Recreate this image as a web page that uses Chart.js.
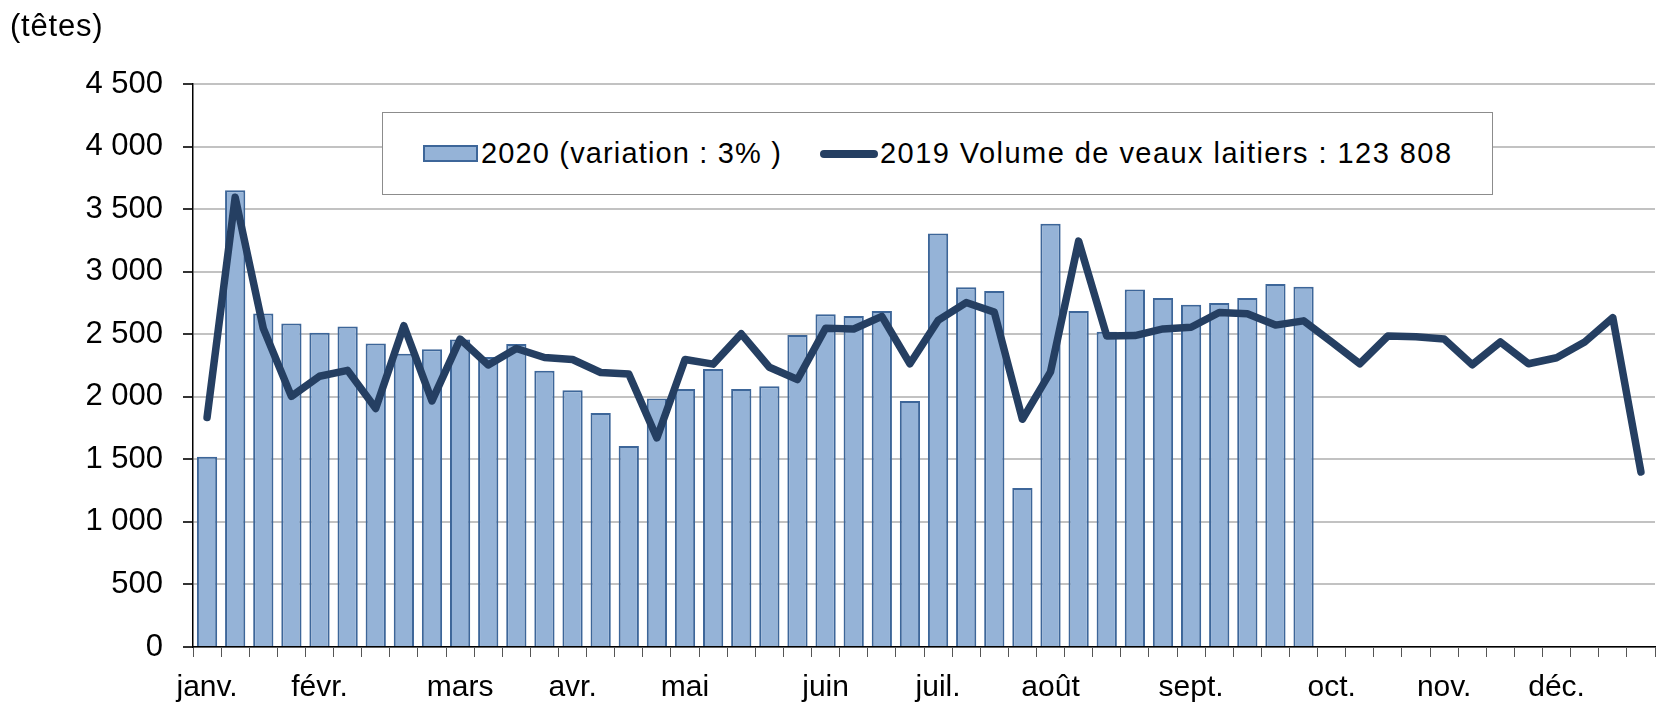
<!DOCTYPE html>
<html lang="fr">
<head>
<meta charset="utf-8">
<title>Volume de veaux laitiers</title>
<script src="https://cdn.jsdelivr.net/npm/chart.js@4"></script>
<style>
    body { margin: 0; background: #fff; font-family: "Liberation Sans", Arial, sans-serif; }
    #wrap { position: relative; width: 1658px; height: 702px; }
    #unit { position: absolute; left: 10px; top: 8px; font-size: 31px; line-height: 36px; color: #000; letter-spacing: 0.8px; }
    #legend {
        position: absolute; left: 382px; top: 112px; width: 1111px; height: 83px;
        border: 1px solid #8c8c8c; background: #fff; box-sizing: border-box;
        font-size: 29px; color: #000;
    }
    .txt { position: absolute; top: 0; height: 81px; line-height: 81px; white-space: nowrap; }
    .swatch-bar { position: absolute; left: 40px; top: 32px; width: 55px; height: 17px; box-sizing: border-box;
        background: #95b3d7; border: 2px solid #3d6699; }
    .swatch-line { position: absolute; left: 437px; top: 37px; width: 58px; height: 8px; border-radius: 4px; background: #253f62; }
</style>
</head>
<body>
<div id="wrap">
    <canvas id="chart" width="1658" height="702"></canvas>
    <div id="unit">(têtes)</div>
    <div id="legend">
        <span class="swatch-bar"></span>
        <span class="txt" style="left:98px; letter-spacing:1.15px">2020 (variation : 3% )</span>
        <span class="swatch-line"></span>
        <span class="txt" style="left:497px; letter-spacing:1.45px">2019 Volume de veaux laitiers : 123 808</span>
    </div>
</div>
<script>
// 52 semaines, le mois est affiche sur sa premiere semaine
const months = ['janv.', 'févr.', 'mars', 'avr.', 'mai', 'juin', 'juil.', 'août', 'sept.', 'oct.', 'nov.', 'déc.'];
const monthWeeks = [0, 4, 9, 13, 17, 22, 26, 30, 35, 40, 44, 48];

const weeks = [];
for (let i = 0; i < 52; i++) {
    const m = monthWeeks.indexOf(i);
    weeks.push(m >= 0 ? months[m] : '');
}

const yTicks = [0, 500, 1000, 1500, 2000, 2500, 3000, 3500, 4000, 4500];

// 2020 (semaines 1 a 40)
const veaux2020 = [1520, 3650, 2665, 2586, 2511, 2561, 2425, 2343, 2379, 2457,
    2318, 2422, 2208, 2053, 1871, 1607, 1986, 2062, 2222, 2062,
    2084, 2494, 2660, 2646, 2685, 1966, 3306, 2876, 2846, 1270,
    3382, 2685, 2520, 2857, 2789, 2736, 2750, 2789, 2902, 2879];

// 2019
const veaux2019 = [1835, 3595, 2547, 2003, 2164, 2211, 1907, 2568, 1967, 2461,
    2254, 2386, 2314, 2298, 2194, 2183, 1671, 2298, 2261, 2503,
    2236, 2138, 2548, 2542, 2643, 2264, 2610, 2753, 2677, 1820,
    2199, 3244, 2486, 2489, 2542, 2556, 2674, 2663, 2573, 2607,
    2438, 2264, 2486, 2480, 2461, 2256, 2438, 2264, 2312, 2438,
    2632, 1399];

function fmt(v) {
    return String(v).replace(/\B(?=(\d{3})+(?!\d))/g, ' ');
}

const family = '"Liberation Sans", Arial, sans-serif';

new Chart(document.getElementById('chart'), {
    type: 'bar',
    data: {
        labels: weeks,
        datasets: [
            {
                type: 'line',
                label: '2019 Volume de veaux laitiers : 123 808',
                data: veaux2019,
                borderColor: '#253f62',
                borderWidth: 7.5,
                pointRadius: 0,
                borderCapStyle: 'round',
                borderJoinStyle: 'round',
                tension: 0,
                order: 0
            },
            {
                label: '2020 (variation : 3% )',
                data: veaux2020,
                backgroundColor: '#95b3d7',
                borderColor: '#3d6699',
                borderWidth: 2,
                categoryPercentage: 1,
                barPercentage: 0.72,
                order: 1
            }
        ]
    },
    options: {
        responsive: false,
        animation: false,
        layout: { padding: { left: 0, right: 3, top: 84, bottom: 0 } },
        plugins: {
            legend: { display: false },
            tooltip: { enabled: false }
        },
        scales: {
            x: {
                offset: true,
                grid: {
                    offset: true,
                    drawOnChartArea: false,
                    drawTicks: true,
                    tickLength: 10,
                    tickColor: '#555'
                },
                border: { display: true, color: '#000', width: 1.5 },
                ticks: {
                    autoSkip: false,
                    maxRotation: 0,
                    minRotation: 0,
                    padding: 13,
                    color: '#000',
                    font: { family: family, size: 30 }
                },
                afterFit: (scale) => { scale.height = 55; }
            },
            y: {
                min: 0,
                max: 4500,
                afterBuildTicks: (scale) => { scale.ticks = yTicks.map(v => ({ value: v })); },
                grid: {
                    color: '#c2c2c2',
                    lineWidth: 2,
                    tickLength: 10,
                    tickColor: '#333'
                },
                border: { display: true, color: '#000', width: 1.5 },
                ticks: {
                    padding: 20,
                    color: '#000',
                    font: { family: family, size: 31 },
                    callback: (v) => fmt(v)
                },
                afterFit: (scale) => { scale.width = 193; }
            }
        }
    }
});
</script>
</body>
</html>
